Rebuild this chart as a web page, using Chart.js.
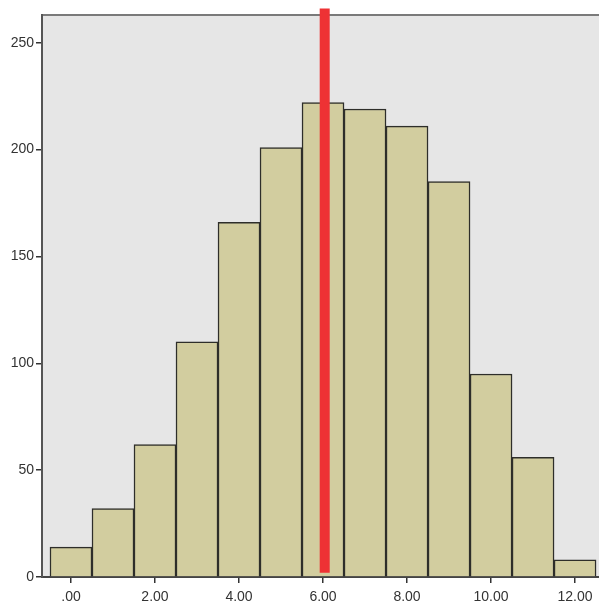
<!DOCTYPE html>
<html>
<head>
<meta charset="utf-8">
<script src="https://cdn.jsdelivr.net/npm/chart.js@4"></script>
<style>
  html, body { margin: 0; padding: 0; background: #fff; }
  #wrap { width: 599px; height: 603px; }
</style>
</head>
<body>
<div id="wrap"><canvas id="hist"></canvas></div>
<script>
// histogram bins (bin centres) and counts
const binCentres = [0, 1, 2, 3, 4, 5, 6, 7, 8, 9, 10, 11, 12];
const counts = [14, 32, 62, 110, 166, 201, 222, 219, 211, 185, 95, 56, 8];
const xTickValues = [0, 2, 4, 6, 8, 10, 12];
const yTickValues = [0, 50, 100, 150, 200, 250];
// red marker line, just right of 6
const markerX = 6.04;
const markerSpan = [2, 266];

const plotFrame = {
    id: 'plotFrame',
    beforeDraw(chart) {
        const { ctx, chartArea: a } = chart;
        ctx.save();
        ctx.fillStyle = '#e6e6e6';
        ctx.fillRect(a.left, a.top, a.right - a.left, a.bottom - a.top);
        ctx.strokeStyle = '#7a7a7a';
        ctx.lineWidth = 2;
        ctx.beginPath();
        ctx.moveTo(a.left, a.top);
        ctx.lineTo(a.right + 2, a.top);
        ctx.stroke();
        ctx.restore();
    }
};

const ctx = document.getElementById('hist').getContext('2d');
new Chart(ctx, {
    type: 'bar',
    data: {
        datasets: [{
            type: 'line',
            data: markerSpan.map(v => ({ x: markerX, y: v })),
            borderColor: '#ee3234',
            borderWidth: 10,
            pointRadius: 0,
            clip: false,
            order: 0
        }, {
            data: binCentres.map((c, i) => ({ x: c, y: counts[i] })),
            backgroundColor: '#d2cd9f',
            borderColor: '#2e2e2a',
            borderWidth: 1.5,
            barPercentage: 1,
            categoryPercentage: 1,
            order: 1
        }]
    },
    options: {
        responsive: true,
        maintainAspectRatio: false,
        animation: false,
        layout: { padding: { top: 15, right: 0, left: 0, bottom: 0 } },
        plugins: {
            legend: { display: false },
            tooltip: { enabled: false }
        },
        scales: {
            x: {
                type: 'linear',
                min: -0.69,
                max: 12.57,
                offset: false,
                afterFit(s) { s.height = 26; },
                afterBuildTicks(s) { s.ticks = xTickValues.map(v => ({ value: v })); },
                ticks: {
                    callback: v => v === 0 ? '.00' : v.toFixed(2),
                    color: '#333',
                    font: { family: 'Arial, "Liberation Sans", sans-serif', size: 14 },
                    padding: 6,
                    maxRotation: 0
                },
                grid: { offset: false, drawOnChartArea: false, drawTicks: true, tickLength: 6, color: '#333', lineWidth: 1.5 },
                border: { display: true, color: '#444', width: 2 }
            },
            y: {
                min: 0,
                max: 263,
                afterFit(s) { s.width = 42; },
                afterBuildTicks(s) { s.ticks = yTickValues.map(v => ({ value: v })); },
                ticks: {
                    color: '#333',
                    font: { family: 'Arial, "Liberation Sans", sans-serif', size: 14 },
                    padding: 2
                },
                grid: { drawOnChartArea: false, drawTicks: true, tickLength: 6, color: '#333', lineWidth: 1.5 },
                border: { display: true, color: '#555', width: 2 }
            }
        }
    },
    plugins: [plotFrame]
});
</script>
</body>
</html>
